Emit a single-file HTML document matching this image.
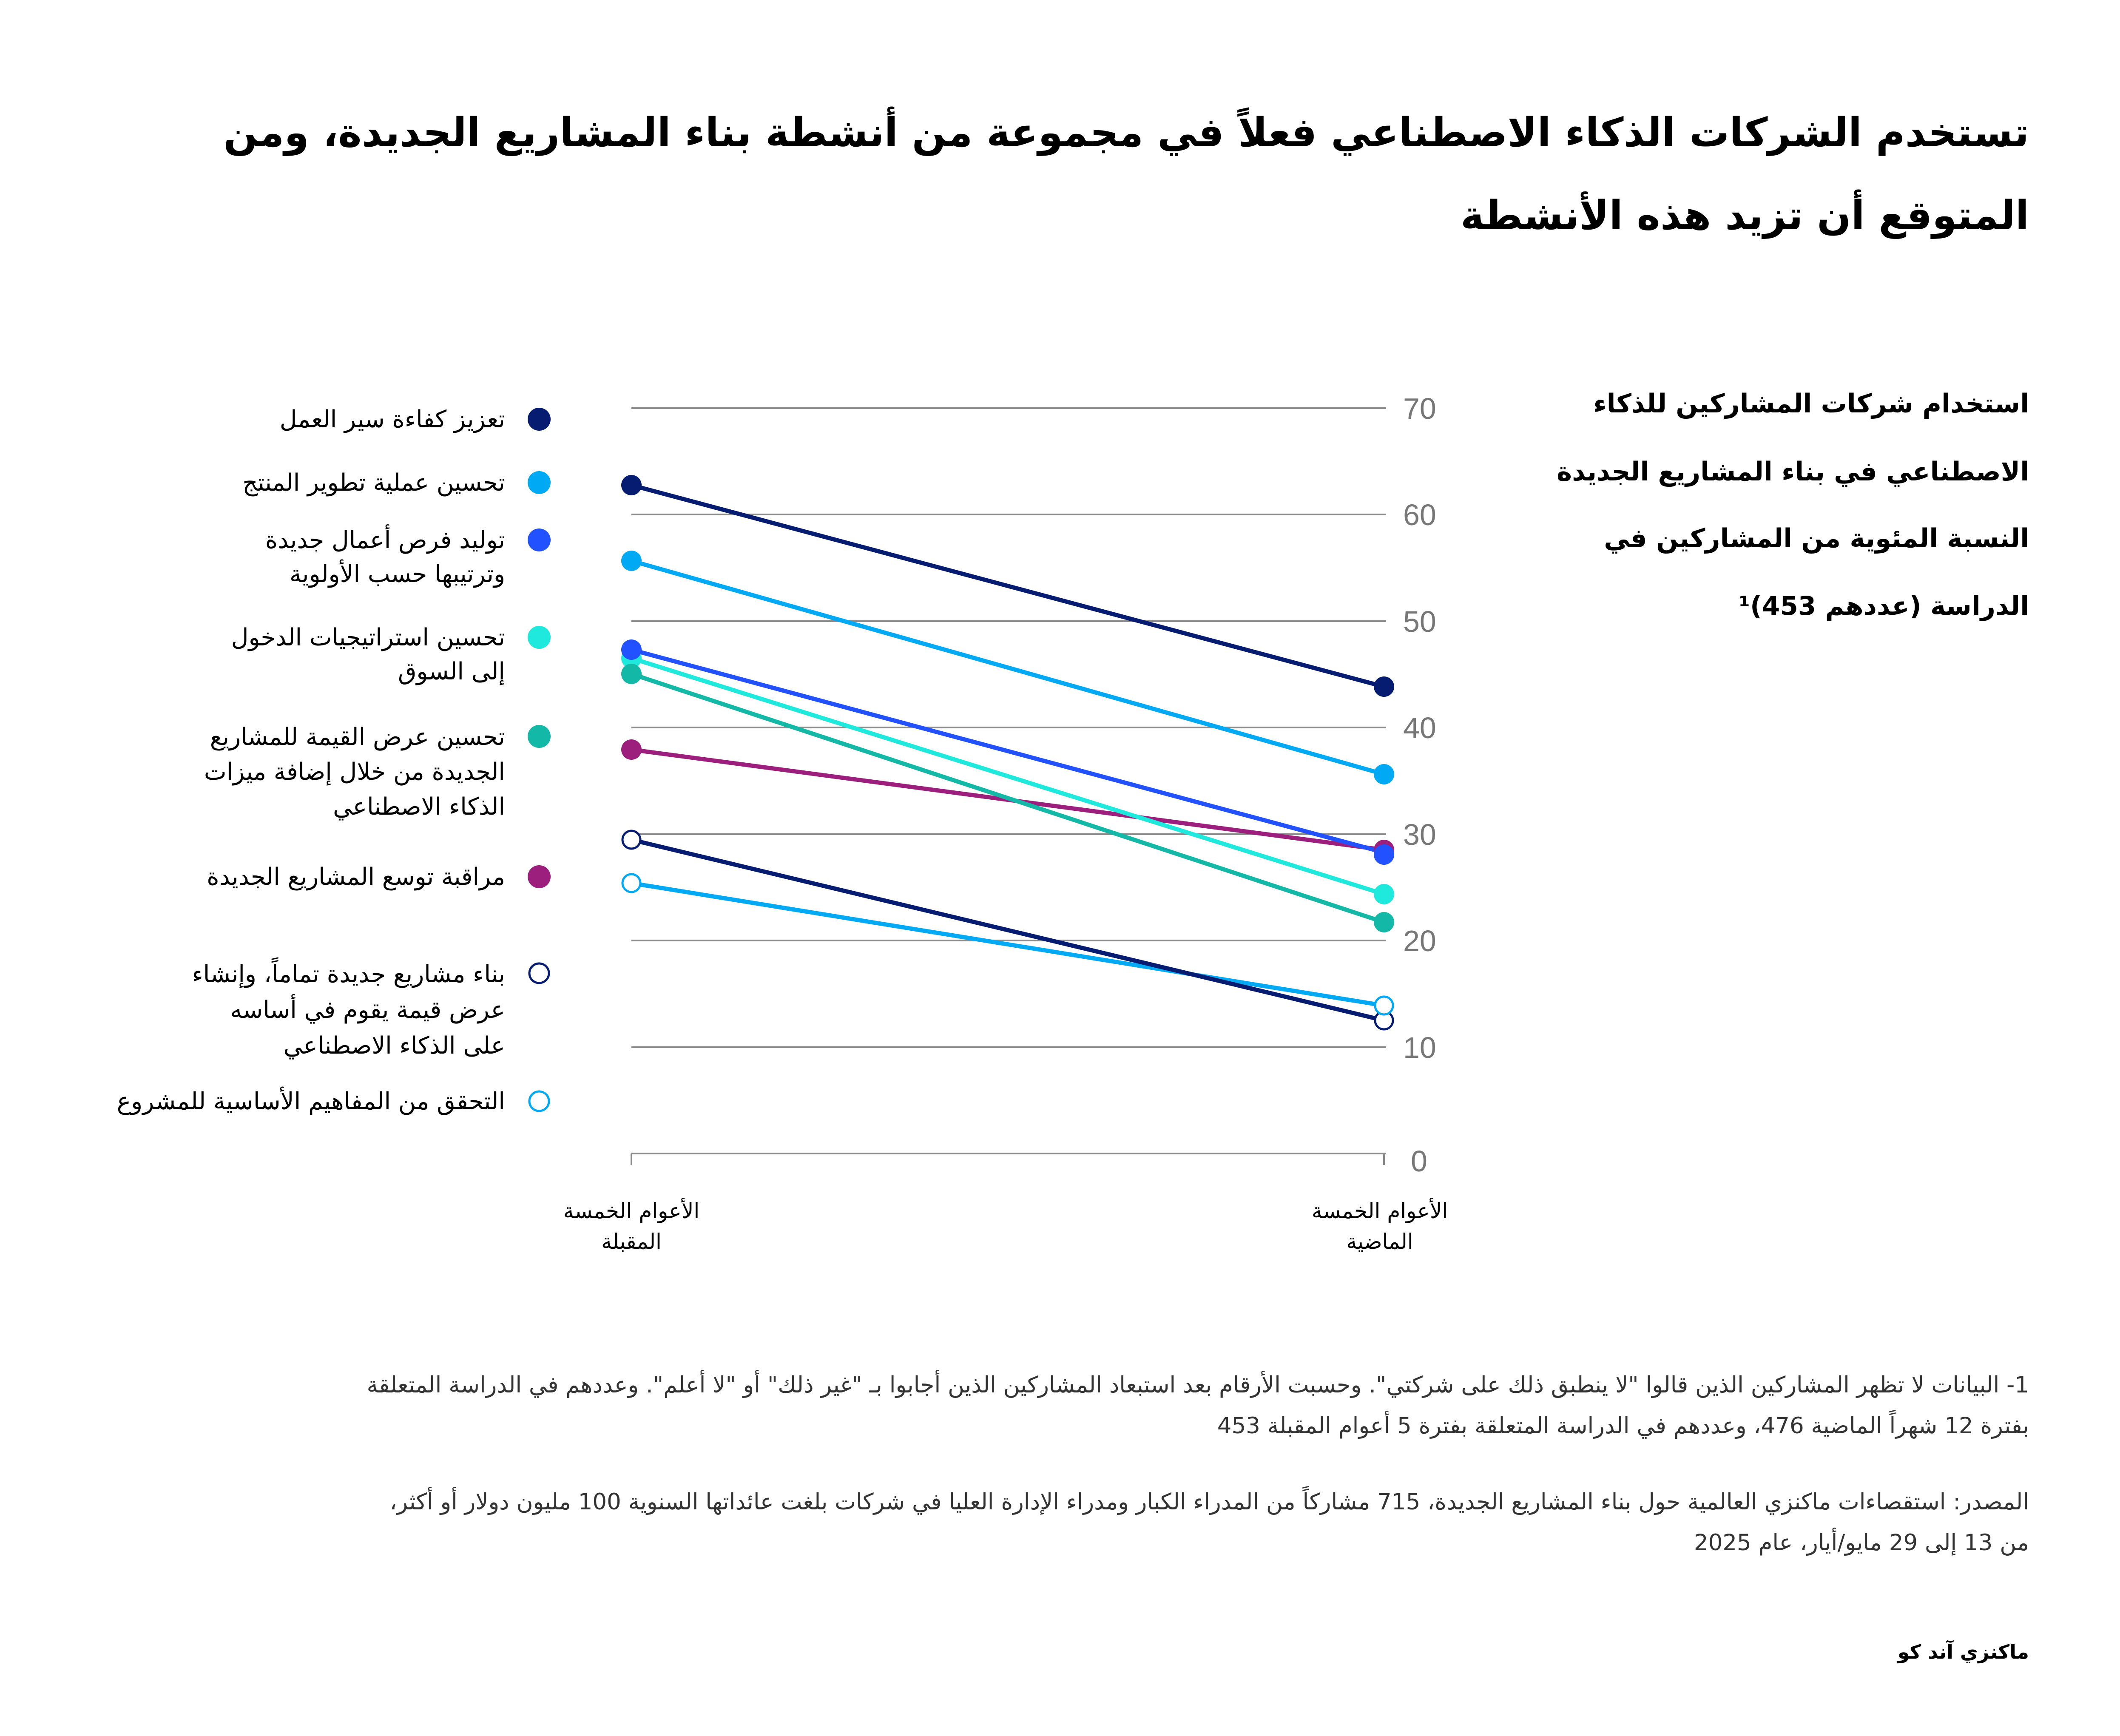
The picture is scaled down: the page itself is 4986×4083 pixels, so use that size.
<!DOCTYPE html>
<html><head><meta charset="utf-8">
<style>
body{margin:0;width:4986px;height:4083px;background:#fff;position:relative;overflow:hidden;font-family:"DejaVu Sans","Liberation Sans",sans-serif;color:#000}
.t{position:absolute;direction:rtl;white-space:nowrap;text-align:right}
.c{position:absolute;white-space:nowrap;text-align:center;direction:rtl}
</style></head><body>
<div class="t" style="right:214px;top:255px;font-size:94px;font-weight:bold;line-height:115px">تستخدم الشركات الذكاء الاصطناعي فعلاً في مجموعة من أنشطة بناء المشاريع الجديدة، ومن</div>
<div class="t" style="right:214px;top:450px;font-size:94px;font-weight:bold;line-height:115px">المتوقع أن تزيد هذه الأنشطة</div>

<div class="t" style="right:214px;top:905px;font-size:61px;font-weight:bold;line-height:90px">استخدام شركات المشاركين للذكاء</div>
<div class="t" style="right:214px;top:1065px;font-size:61px;font-weight:bold;line-height:90px">الاصطناعي في بناء المشاريع الجديدة</div>
<div class="t" style="right:214px;top:1222px;font-size:61px;font-weight:bold;line-height:90px">النسبة المئوية من المشاركين في</div>
<div class="t" style="right:214px;top:1381px;font-size:61px;font-weight:bold;line-height:90px">الدراسة (عددهم 453)¹</div>

<svg style="position:absolute;left:0;top:0" width="4986" height="4083">
<g stroke="#8a8a8a" stroke-width="4">
<line x1="1485" y1="960" x2="3260" y2="960"/>
<line x1="1485" y1="1210" x2="3260" y2="1210"/>
<line x1="1485" y1="1461" x2="3260" y2="1461"/>
<line x1="1485" y1="1711" x2="3260" y2="1711"/>
<line x1="1485" y1="1962" x2="3260" y2="1962"/>
<line x1="1485" y1="2212" x2="3260" y2="2212"/>
<line x1="1485" y1="2463" x2="3260" y2="2463"/>
<line x1="1485" y1="2713" x2="3260" y2="2713"/>
<line x1="1485" y1="2713" x2="1485" y2="2740"/>
<line x1="3255" y1="2713" x2="3255" y2="2740"/>
</g>
<g font-size="70" fill="#777" font-family="Liberation Sans,sans-serif">
<text x="3300" y="985">70</text><text x="3300" y="1235">60</text><text x="3300" y="1486">50</text>
<text x="3300" y="1736">40</text><text x="3300" y="1987">30</text><text x="3300" y="2237">20</text>
<text x="3300" y="2488">10</text><text x="3318" y="2755">0</text>
</g>
<g stroke-width="10">
<line x1="1485" y1="2077" x2="3255" y2="2365" stroke="#00a9f4"/>
<line x1="1485" y1="1975" x2="3255" y2="2400" stroke="#051c70"/>
<line x1="1485" y1="1763" x2="3255" y2="1999" stroke="#9c1f7d"/>
<line x1="1485" y1="1585" x2="3255" y2="2169" stroke="#14b8a6"/>
<line x1="1485" y1="1548" x2="3255" y2="2103" stroke="#1fe8dc"/>
<line x1="1485" y1="1528" x2="3255" y2="2005" stroke="#2251ff"/>
<line x1="1485" y1="1319" x2="3255" y2="1821" stroke="#00a9f4"/>
<line x1="1485" y1="1141" x2="3255" y2="1615" stroke="#051c70"/>
</g>
<g>
<circle cx="1485" cy="1141" r="24" fill="#051c70"/><circle cx="3255" cy="1615" r="24" fill="#051c70"/>
<circle cx="1485" cy="1319" r="24" fill="#00a9f4"/><circle cx="3255" cy="1821" r="24" fill="#00a9f4"/>
<circle cx="1485" cy="1548" r="24" fill="#1fe8dc"/><circle cx="3255" cy="2103" r="24" fill="#1fe8dc"/>
<circle cx="1485" cy="1585" r="24" fill="#14b8a6"/><circle cx="3255" cy="2169" r="24" fill="#14b8a6"/>
<circle cx="1485" cy="1763" r="24" fill="#9c1f7d"/><circle cx="3255" cy="1999" r="24" fill="#9c1f7d"/>
<circle cx="1485" cy="1528" r="24" fill="#2251ff"/><circle cx="3255" cy="2010" r="24" fill="#2251ff"/>
<circle cx="1485" cy="1975" r="21" fill="#fff" stroke="#051c70" stroke-width="5"/><circle cx="3255" cy="2400" r="21" fill="#fff" stroke="#051c70" stroke-width="5"/>
<circle cx="1485" cy="2077" r="21" fill="#fff" stroke="#00a9f4" stroke-width="5"/><circle cx="3255" cy="2365" r="21" fill="#fff" stroke="#00a9f4" stroke-width="5"/>
</g>
<g>
<circle cx="1268" cy="986" r="27" fill="#051c70"/>
<circle cx="1268" cy="1135" r="27" fill="#00a9f4"/>
<circle cx="1268" cy="1270" r="27" fill="#2251ff"/>
<circle cx="1268" cy="1499" r="27" fill="#1fe8dc"/>
<circle cx="1268" cy="1732" r="27" fill="#14b8a6"/>
<circle cx="1268" cy="2062" r="27" fill="#9c1f7d"/>
<circle cx="1268" cy="2289" r="23" fill="#fff" stroke="#051c70" stroke-width="5"/>
<circle cx="1268" cy="2590" r="23" fill="#fff" stroke="#00a9f4" stroke-width="5"/>
</g>
</svg>

<div class="t" style="right:3798px;top:947px;font-size:56px;line-height:80px">تعزيز كفاءة سير العمل</div>
<div class="t" style="right:3798px;top:1096px;font-size:56px;line-height:80px">تحسين عملية تطوير المنتج</div>
<div class="t" style="right:3798px;top:1231px;font-size:56px;line-height:80px">توليد فرص أعمال جديدة<br>وترتيبها حسب الأولوية</div>
<div class="t" style="right:3798px;top:1460px;font-size:56px;line-height:80px">تحسين استراتيجيات الدخول<br>إلى السوق</div>
<div class="t" style="right:3798px;top:1693px;font-size:56px;line-height:82px">تحسين عرض القيمة للمشاريع<br>الجديدة من خلال إضافة ميزات<br>الذكاء الاصطناعي</div>
<div class="t" style="right:3798px;top:2023px;font-size:56px;line-height:80px">مراقبة توسع المشاريع الجديدة</div>
<div class="t" style="right:3798px;top:2250px;font-size:56px;line-height:84px">بناء مشاريع جديدة تماماً، وإنشاء<br>عرض قيمة يقوم في أساسه<br>على الذكاء الاصطناعي</div>
<div class="t" style="right:3798px;top:2551px;font-size:56px;line-height:80px">التحقق من المفاهيم الأساسية للمشروع</div>

<div class="c" style="left:1285px;width:400px;top:2812px;font-size:50px;line-height:72px">الأعوام الخمسة<br>المقبلة</div>
<div class="c" style="left:3045px;width:400px;top:2812px;font-size:50px;line-height:72px">الأعوام الخمسة<br>الماضية</div>

<div class="t" style="right:214px;top:3210px;font-size:53px;line-height:96px;color:#333">1- البيانات لا تظهر المشاركين الذين قالوا "لا ينطبق ذلك على شركتي". وحسبت الأرقام بعد استبعاد المشاركين الذين أجابوا بـ "غير ذلك" أو "لا أعلم". وعددهم في الدراسة المتعلقة<br>بفترة 12 شهراً الماضية 476، وعددهم في الدراسة المتعلقة بفترة 5 أعوام المقبلة 453</div>
<div class="t" style="right:214px;top:3485px;font-size:53px;line-height:96px;color:#333">المصدر: استقصاءات ماكنزي العالمية حول بناء المشاريع الجديدة، 715 مشاركاً من المدراء الكبار ومدراء الإدارة العليا في شركات بلغت عائداتها السنوية 100 مليون دولار أو أكثر،<br>من 13 إلى 29 مايو/أيار، عام 2025</div>
<div class="t" style="right:214px;top:3855px;font-size:46px;font-weight:bold;line-height:60px">ماكنزي آند كو</div>
</body></html>
